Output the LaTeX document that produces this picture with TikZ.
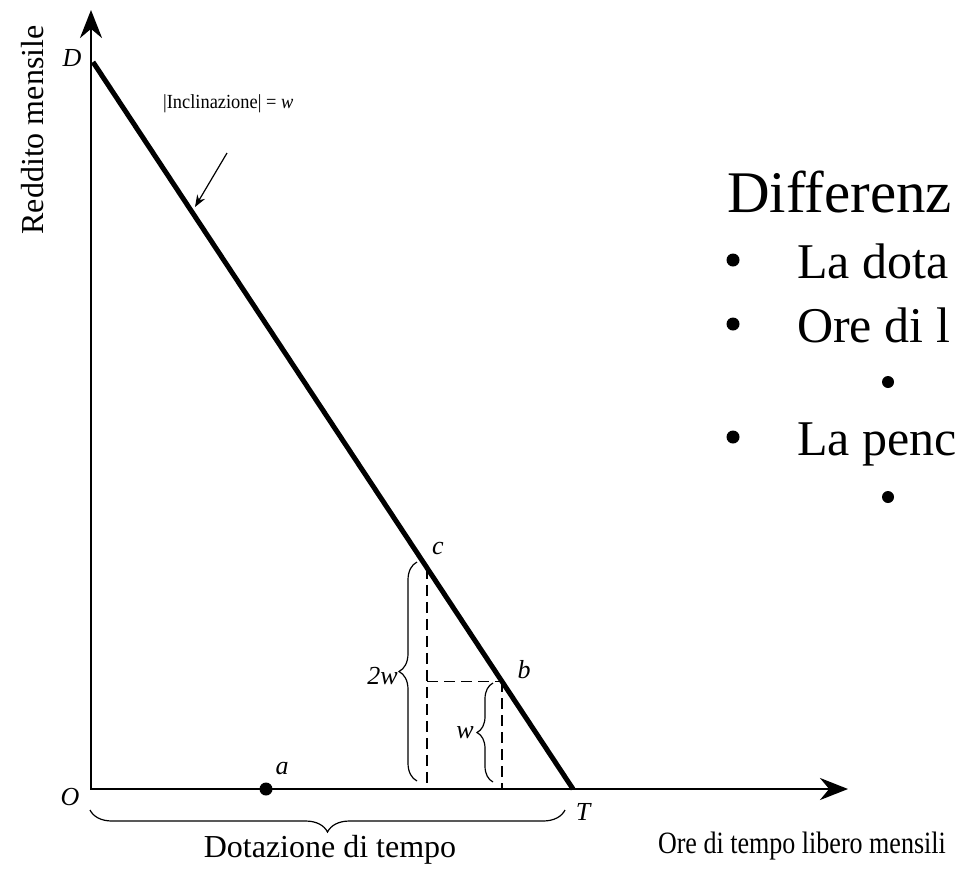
\documentclass[tikz,border=0pt]{standalone}
\usepackage{fontspec}
\setmainfont{Liberation Serif}
\usetikzlibrary{arrows.meta,decorations.pathreplacing,calc}
\begin{document}
\begin{tikzpicture}[x=1pt,y=-1pt,
  axisline/.style={line width=2.8pt, line join=miter,
    {Stealth[length=28pt,width=22pt]}-{Stealth[length=28pt,width=22pt]}},
  budget/.style={line width=5pt},
  guide/.style={line width=1.3pt, dash pattern=on 11pt off 6pt},
  bracedeco/.style={decorate, decoration={brace, amplitude=#1}, line width=1.2pt},
  ptlab/.style={font=\fontsize{26}{30}\selectfont\itshape, inner sep=0pt},
  axlab/.style={font=\fontsize{32}{36}\selectfont, inner sep=0pt},
  slidetitle/.style={font=\fontsize{59}{66}\selectfont, anchor=base west, inner sep=0pt},
  slidetext/.style={font=\fontsize{50}{58}\selectfont, anchor=base west, inner sep=0pt},
  bigbullet/.style={circle, fill, minimum size=13pt, inner sep=0pt},
  smallbullet/.style={circle, fill, minimum size=12pt, inner sep=0pt},
  dotnode/.style={circle, fill, minimum size=13pt, inner sep=0pt}
]
\useasboundingbox (0,0) rectangle (955,868);
\clip (0,0) rectangle (955,868);

% axes
\coordinate (O) at (91,789);
\coordinate (Ytip) at (91,10);
\coordinate (Xtip) at (848,789);
\draw[axisline] (Ytip) -- (O) -- (Xtip);

% budget line
\coordinate (D) at (93,62);
\coordinate (T) at (573,789);
\draw[budget] (D) -- (T);
\coordinate (c) at ($(D)!{334/480}!(T)$);
\coordinate (b) at ($(D)!{409/480}!(T)$);

% dashed guides
\draw[guide] (c) -- (c |- O);
\draw[guide] (c |- b) -- (b);
\draw[guide] (b) -- (b |- O);

% braces
\coordinate (B1s) at (417,781);
\coordinate (B1e) at (417,562);
\draw[bracedeco=18pt] (B1s) -- (B1e);
\coordinate (B2s) at (493,782);
\coordinate (B2e) at (493,683);
\draw[bracedeco=16pt] (B2s) -- (B2e);
\coordinate (B3s) at (565,810);
\coordinate (B3e) at (90,810);
\draw[bracedeco=22pt] (B3s) -- (B3e);

% point a
\node[dotnode] (a) at (266,789) {};

% labels
\node[ptlab] (Dlab) at (72,58) {D};
\node[ptlab] (Olab) at (70,797) {O};
\node[ptlab] (Tlab) at (583,812) {T};
\node[ptlab] (alab) at (282,768) {a};
\node[ptlab] (blab) at (524,670) {b};
\node[ptlab] (clab) at (438,548) {c};
\node[ptlab, anchor=east] (lab2w) at (398,676) {2w};
\node[ptlab, anchor=east] (labw) at (474,733) {w};

\node[axlab, rotate=90] (ylab) at (33,130) {Reddito mensile};
\node[axlab] (dotaz) at (330,850) {Dotazione di tempo};
\node[axlab, anchor=east, xscale=0.84, font=\fontsize{31}{34}\selectfont] (ore) at (946,846) {Ore di tempo libero mensili};

\node[font=\fontsize{20}{22}\selectfont, anchor=west, inner sep=0pt, xscale=0.92] (incl) at (163,104) {|Inclinazione| = \textit{w}};
\coordinate (arS) at (227,153);
\coordinate (arE) at (195,207);
\draw[line width=1.2pt, -{Stealth[length=12pt,width=9pt]}] (arS) -- (arE);

% slide text (clipped at the right edge)
\node[slidetitle] (title) at (727,212) {Differenz};
\node[bigbullet] (bu1) at (733,260) {};
\node[slidetext] (t1) at (797,278) {La dota};
\node[bigbullet] (bu2) at (733,324) {};
\node[slidetext] (t2) at (797,342) {Ore di l};
\node[smallbullet] (sb1) at (888,382) {};
\node[bigbullet] (bu3) at (733,437) {};
\node[slidetext] (t3) at (797,455) {La penc};
\node[smallbullet] (sb2) at (888,497) {};
\end{tikzpicture}
\end{document}
